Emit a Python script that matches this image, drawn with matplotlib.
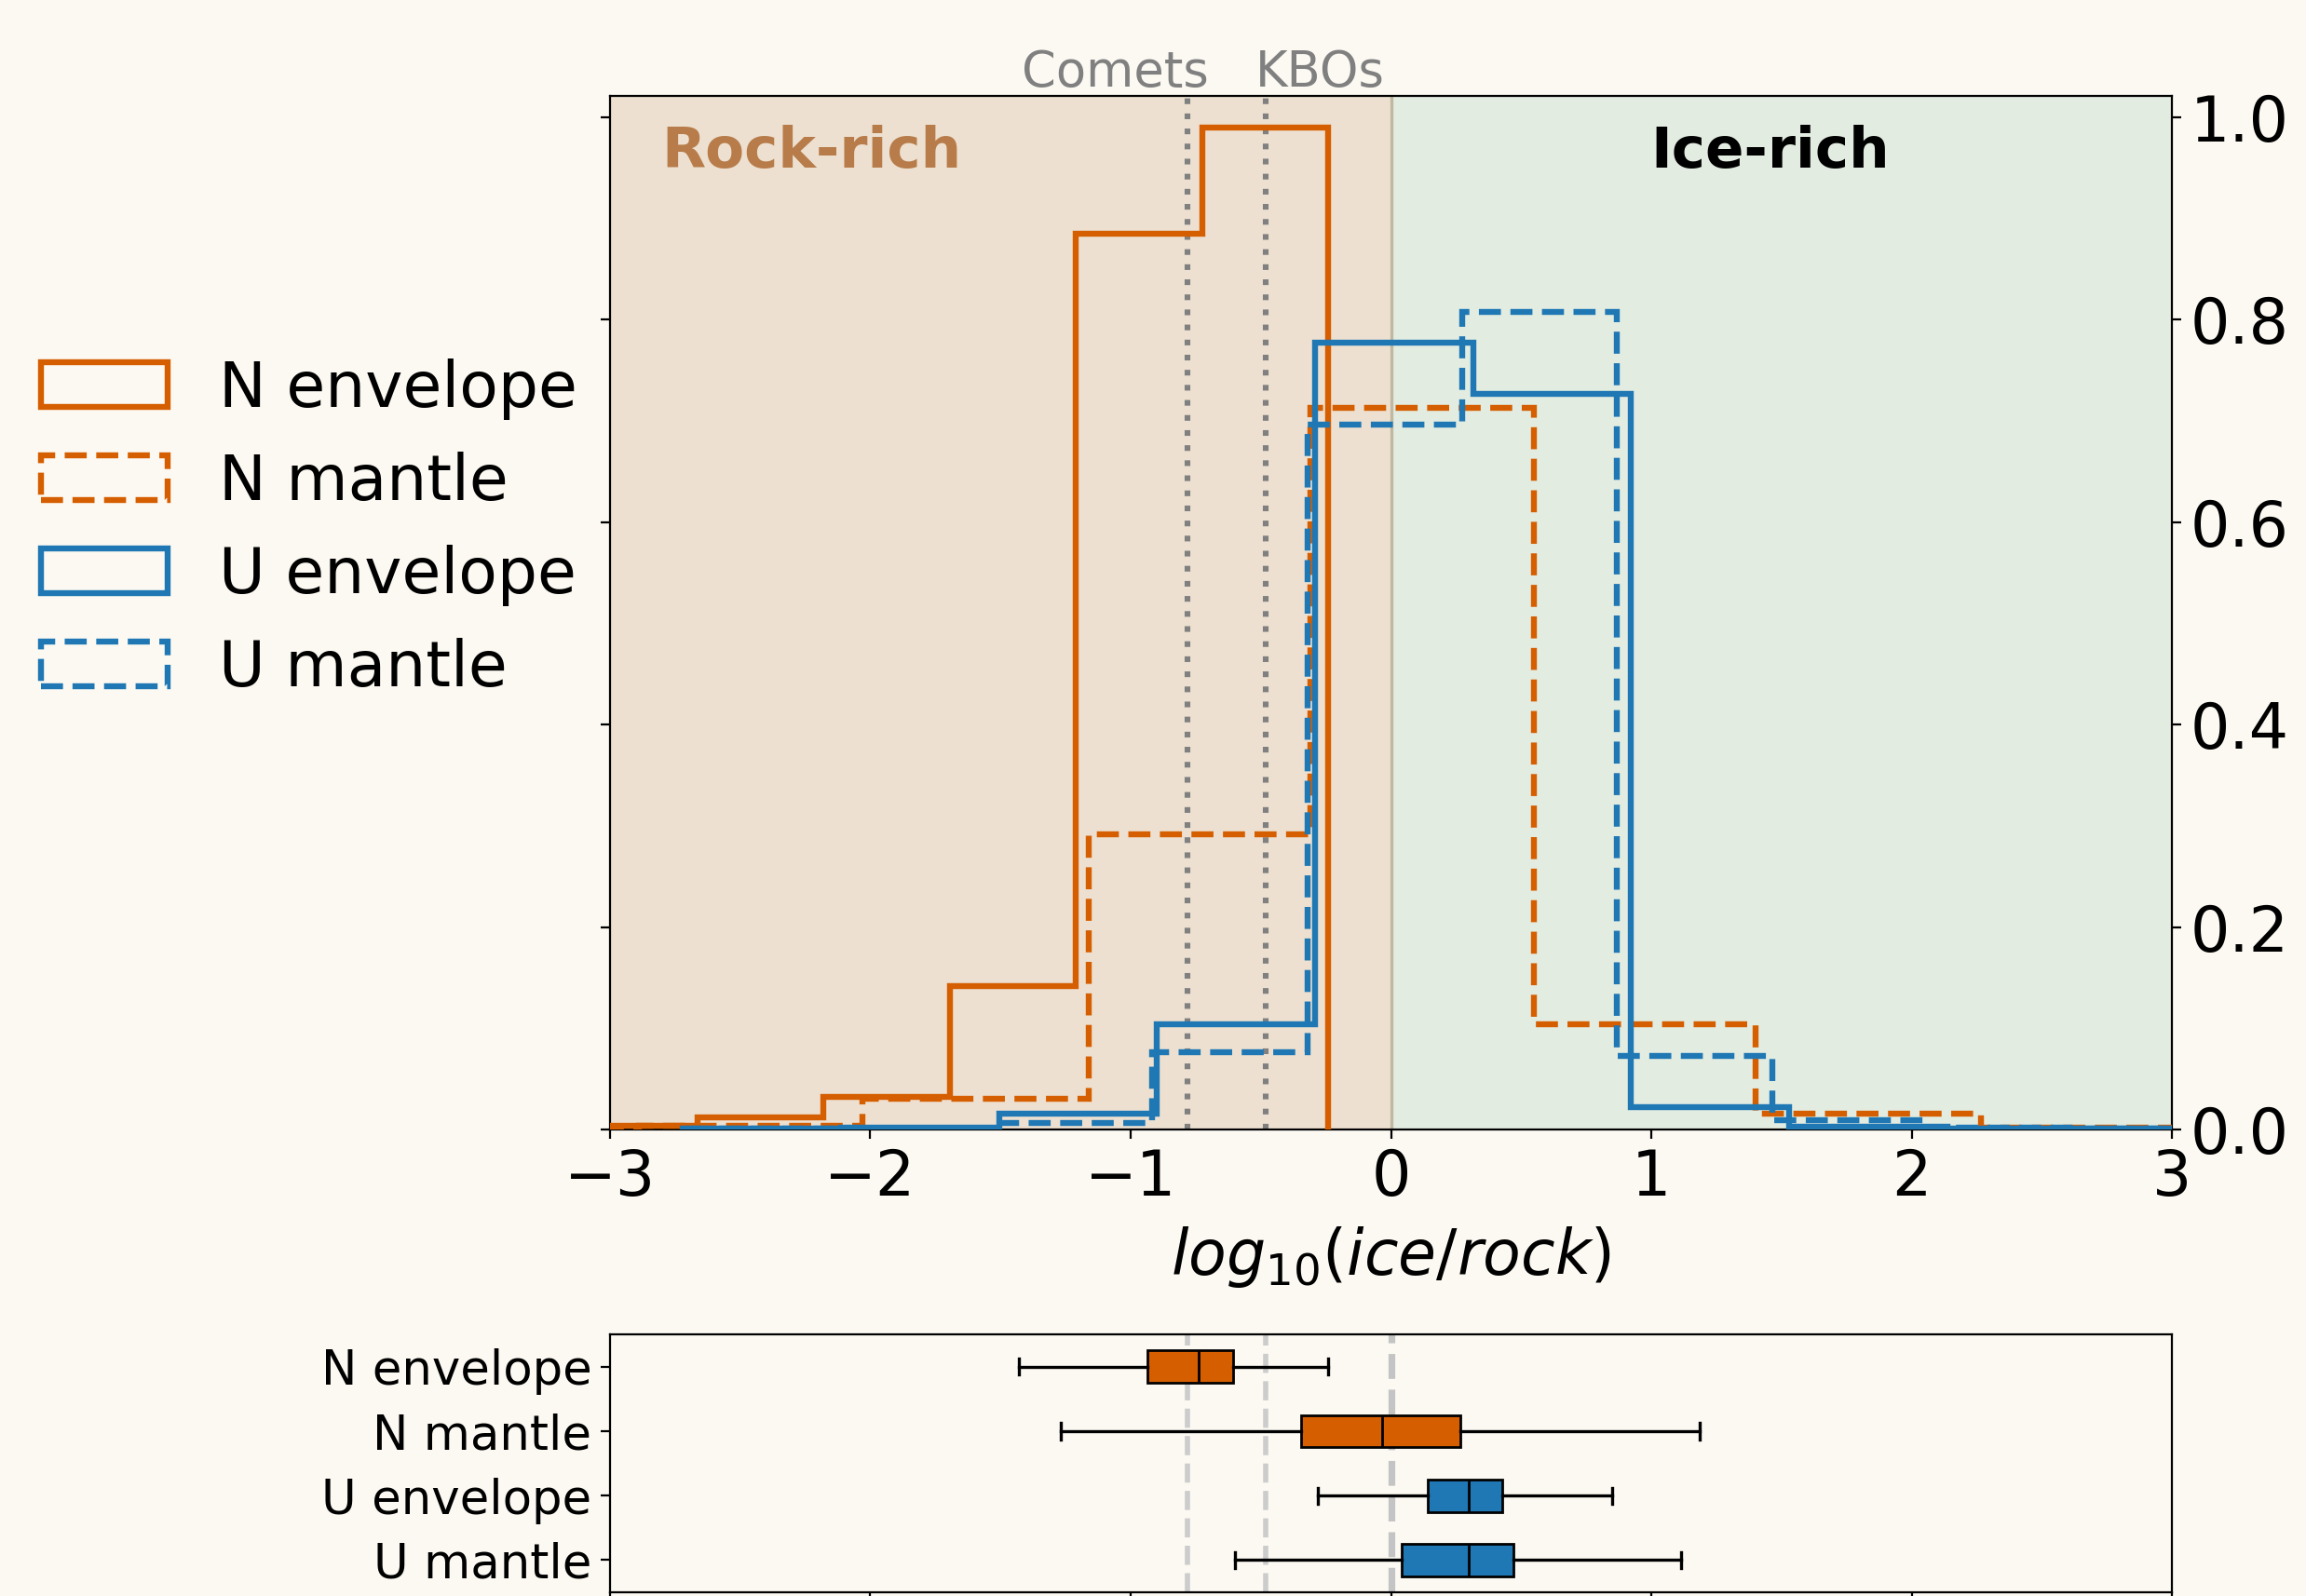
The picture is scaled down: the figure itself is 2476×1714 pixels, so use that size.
import numpy as np
import matplotlib
matplotlib.use("Agg")
import matplotlib.pyplot as plt

# histogram outlines (bin edges, normalised heights)
n_env_edges = [-3.15, -2.665, -2.18, -1.695, -1.21, -0.725, -0.24]
n_env_vals = [0.004, 0.012, 0.032, 0.142, 0.885, 0.990]

n_man_edges = [-3.75, -2.89, -2.03, -1.16, -0.31, 0.55, 1.40, 2.265, 3.12]
n_man_vals = [0.002, 0.004, 0.030, 0.292, 0.713, 0.104, 0.016, 0.002]

u_env_edges = [-2.72, -2.113, -1.506, -0.899, -0.292, 0.315, 0.922, 1.529,
               2.136, 2.743, 3.35]
u_env_vals = [0.0008, 0.002, 0.016, 0.104, 0.777, 0.727, 0.022, 0.003,
              0.001, 0.0005]

u_man_edges = [-2.70, -2.109, -1.514, -0.919, -0.321, 0.274, 0.868, 1.465,
               2.058, 2.65, 3.25]
u_man_vals = [0.0005, 0.001, 0.006, 0.076, 0.696, 0.808, 0.073, 0.009,
              0.002, 0.001]

# box plot summary
box_labels = ["N envelope", "N mantle", "U envelope", "U mantle"]
box_lo = [-1.43, -1.27, -0.28, -0.60]
box_q1 = [-0.935, -0.347, 0.141, 0.041]
box_med = [-0.739, -0.035, 0.298, 0.298]
box_q3 = [-0.605, 0.266, 0.429, 0.472]
box_hi = [-0.242, 1.186, 0.85, 1.114]

comets = -0.78
kbos = -0.48

ORANGE = "#d55e00"
BLUE = "#1f77b4"
BG = "#fcf9f2"

series = [
    (n_env_edges, n_env_vals, ORANGE, "-", "N envelope"),
    (n_man_edges, n_man_vals, ORANGE, "--", "N mantle"),
    (u_env_edges, u_env_vals, BLUE, "-", "U envelope"),
    (u_man_edges, u_man_vals, BLUE, "--", "U mantle"),
]
box_colors = [ORANGE, ORANGE, BLUE, BLUE]

fig = plt.figure(figsize=(12.38, 8.57), dpi=200, facecolor=BG)
ax = fig.add_axes([0.2645, 0.2923, 0.6774, 0.6476])
bx = fig.add_axes([0.2645, 0.0023, 0.6774, 0.1616])

ax.axvspan(-3, 0, color="#ede0d0", zorder=0)
ax.axvspan(0, 3, color="#e3ece1", zorder=0)
ax.axvline(0, color="#beb9a0", lw=1.2, zorder=1)
for xv in (comets, kbos):
    ax.axvline(xv, color="gray", ls=":", lw=2.2, zorder=1)

for edges, vals, color, ls, label in series:
    ax.hist(edges[:-1], bins=edges, weights=vals, histtype="step",
            color=color, linestyle=ls, lw=2.3, label=label, zorder=3)

ax.set_xlim(-3, 3)
ax.set_ylim(0, 1.021)
ax.set_xticks([-3, -2, -1, 0, 1, 2, 3])
ax.set_yticks([0.0, 0.2, 0.4, 0.6, 0.8, 1.0])
ax.tick_params(axis="both", labelsize=24)
ax.tick_params(axis="y", left=True, right=True, labelleft=False,
               labelright=True)
ax.set_xlabel(r"$log_{10}(ice/rock)$", fontsize=24, labelpad=6)

ax.text(-2.226, 0.9306, "Rock-rich", transform=ax.get_xaxis_transform(),
        ha="center", va="baseline", fontsize=22, fontweight="bold",
        color="#b77c4a")
ax.text(1.455, 0.9306, "Ice-rich", transform=ax.get_xaxis_transform(),
        ha="center", va="baseline", fontsize=22, fontweight="bold",
        color="black")
ax.text(-1.06, 1.009, "Comets", transform=ax.get_xaxis_transform(),
        ha="center", va="baseline", fontsize=19, color="gray")
ax.text(-0.274, 1.009, "KBOs", transform=ax.get_xaxis_transform(),
        ha="center", va="baseline", fontsize=19, color="gray")

fig.legend(*ax.get_legend_handles_labels(), loc="center left",
           bbox_to_anchor=(0.0068, 1 - 568 / 1714), frameon=False,
           fontsize=24.5, borderaxespad=0)

# lower panel: box plots
stats = []
for i, lab in enumerate(box_labels):
    stats.append({"label": lab, "whislo": box_lo[i], "q1": box_q1[i],
                  "med": box_med[i], "q3": box_q3[i], "whishi": box_hi[i]})
positions = np.arange(len(stats))[::-1]
bp = bx.bxp(stats, positions=positions, vert=False, widths=0.5,
            patch_artist=True, showfliers=False,
            boxprops=dict(edgecolor="black", lw=1.0),
            medianprops=dict(color="black", lw=1.0),
            whiskerprops=dict(color="black", lw=1.2),
            capprops=dict(color="black", lw=1.2))
for patch, c in zip(bp["boxes"], box_colors):
    patch.set_facecolor(c)

bx.set_facecolor(BG)
for xv in (comets, kbos):
    bx.axvline(xv, color="#cccccc", ls="--", lw=2, zorder=0)
bx.axvline(0, color="#c4c4c4", ls="--", lw=2.6, zorder=0)
bx.set_xlim(-3, 3)
bx.set_ylim(-0.5, 3.5)
bx.set_xticks([-3, -2, -1, 0, 1, 2, 3])
bx.tick_params(axis="y", labelsize=18.5)
# the x tick labels of this panel fall below the figure edge in the original
bx.tick_params(axis="x", labelbottom=False)

fig.savefig("out.png", dpi=200, facecolor=BG)
